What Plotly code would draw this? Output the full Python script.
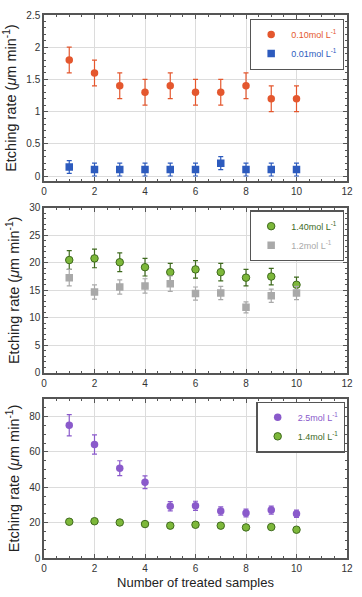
import plotly.graph_objects as go

x = [1, 2, 3, 4, 5, 6, 7, 8, 9, 10]

# Panel 1
p1_a_name = "0.10mol L<sup>-1</sup>"
p1_a = [1.8, 1.6, 1.4, 1.3, 1.4, 1.3, 1.3, 1.4, 1.2, 1.2]
p1_a_err = [0.2, 0.2, 0.2, 0.2, 0.2, 0.2, 0.2, 0.2, 0.2, 0.2]
p1_b_name = "0.01mol L<sup>-1</sup>"
p1_b = [0.14, 0.1, 0.1, 0.1, 0.1, 0.1, 0.2, 0.1, 0.1, 0.1]
p1_b_err = [0.1, 0.1, 0.1, 0.1, 0.1, 0.1, 0.1, 0.1, 0.1, 0.1]

# Panel 2
p2_a_name = "1.40mol L<sup>-1</sup>"
p2_a = [20.5, 20.8, 20.1, 19.2, 18.3, 18.8, 18.3, 17.3, 17.5, 16.0]
p2_a_err = [1.7, 1.7, 1.7, 1.6, 1.6, 1.6, 1.6, 1.5, 1.5, 1.4]
p2_b_name = "1.2mol L<sup>-1</sup>"
p2_b = [17.3, 14.7, 15.6, 15.8, 16.2, 14.4, 14.5, 11.9, 14.0, 14.5]
p2_b_err = [1.5, 1.3, 1.3, 1.3, 1.4, 1.2, 1.2, 1.0, 1.2, 1.2]

# Panel 3
p3_a_name = "2.5mol L<sup>-1</sup>"
p3_a = [75.1, 64.2, 50.8, 42.9, 29.3, 29.5, 26.6, 25.5, 27.1, 25.0]
p3_a_err = [6.0, 5.4, 4.2, 3.6, 2.6, 2.6, 2.3, 2.2, 2.3, 2.1]
p3_b_name = "1.4mol L<sup>-1</sup>"
p3_b = [20.5, 20.8, 20.1, 19.2, 18.3, 18.8, 18.3, 17.3, 17.5, 16.0]

x_ticks = [0, 2, 4, 6, 8, 10, 12]
x_title = "Number of treated samples"
y_title = "Etching rate (<i>μ</i>m min<sup>-1</sup>)"

ORANGE = "#E4572E"
BLUE = "#2D5BBE"
GREEN = "#7DB83A"
GREEN_EDGE = "#3F6A1E"
GREEN_TEXT = "#3E6B1F"
GRAY = "#A9A9A9"
PURPLE = "#8A5ACB"

def lbl(name, color):
    return f'<span style="color:{color}">{name}</span>'

fig = go.Figure()

def add(xa, ya, y, err, name, color, symbol, legend, text_color, line_color=None, size=7.5):
    fig.add_trace(go.Scatter(
        x=x, y=y, mode="markers", xaxis=xa, yaxis=ya, name=lbl(name, text_color),
        legend=legend,
        marker=dict(color=color, symbol=symbol, size=size,
                    line=dict(color=line_color or color, width=1 if line_color else 0)),
        error_y=dict(type="data", array=err, visible=err is not None,
                     color=color if line_color is None else GREEN_EDGE, thickness=1.2, width=2.5),
    ))

add("x", "y", p1_a, p1_a_err, p1_a_name, ORANGE, "circle", "legend", ORANGE)
add("x", "y", p1_b, p1_b_err, p1_b_name, BLUE, "square", "legend", BLUE)
add("x2", "y2", p2_a, p2_a_err, p2_a_name, GREEN, "circle", "legend2", GREEN_TEXT, line_color=GREEN_EDGE)
add("x2", "y2", p2_b, p2_b_err, p2_b_name, GRAY, "square", "legend2", GRAY)
add("x3", "y3", p3_a, p3_a_err, p3_a_name, PURPLE, "circle", "legend3", PURPLE)
add("x3", "y3", p3_b, None, p3_b_name, GREEN, "circle", "legend3", GREEN_TEXT, line_color=GREEN_EDGE)

axis_common = dict(showline=True, linecolor="#555555", linewidth=1.5, mirror="ticks",
                   ticks="inside", ticklen=4, tickcolor="#555555",
                   showgrid=True, gridcolor="#DCDCDC", gridwidth=1, zeroline=False,
                   tickfont=dict(family="Liberation Sans, Arial", size=10, color="#333333"))

def xaxis(anchor, title=None):
    d = dict(axis_common, range=[0, 12], tickvals=x_ticks, anchor=anchor,
             minor=dict(ticks="inside", dtick=0.5, tick0=0, ticklen=2.5, tickcolor="#555555", showgrid=False))
    if title:
        d["title"] = dict(text=title, font=dict(family="Liberation Sans, Arial", size=13, color="#222222"), standoff=5)
    return d

def yaxis(anchor, rng, dtick, minor, domain):
    return dict(axis_common, range=rng, dtick=dtick, tick0=0, anchor=anchor, domain=domain,
                minor=dict(ticks="inside", dtick=minor, tick0=0, ticklen=2.5, tickcolor="#555555", showgrid=False),
                title=dict(text=y_title, font=dict(family="Liberation Sans, Arial", size=14.5, color="#222222"), standoff=6))

legend_common = dict(bgcolor="white", bordercolor="#555555", borderwidth=1.2,
                     font=dict(family="Liberation Sans, Arial", size=9),
                     xanchor="right", yanchor="top", itemwidth=30, tracegroupgap=0)

fig.update_layout(
    width=362, height=597,
    margin=dict(l=44, r=9, t=12, b=24),
    plot_bgcolor="white", paper_bgcolor="white",
    xaxis=xaxis("y"),
    yaxis=yaxis("x", [-0.08, 2.5], 0.5, 0.1, [0.694, 1.0]),
    xaxis2=xaxis("y2"),
    yaxis2=yaxis("x2", [0, 30], 5, 1, [0.341, 0.645]),
    xaxis3=xaxis("y3", x_title),
    yaxis3=yaxis("x3", [0, 90], 20, 5, [0.0, 0.293]),
    legend=dict(legend_common, x=0.99, y=0.993),
    legend2=dict(legend_common, x=0.99, y=0.64),
    legend3=dict(legend_common, x=0.995, y=0.288),
    showlegend=True,
)

fig.write_html("out.html")
